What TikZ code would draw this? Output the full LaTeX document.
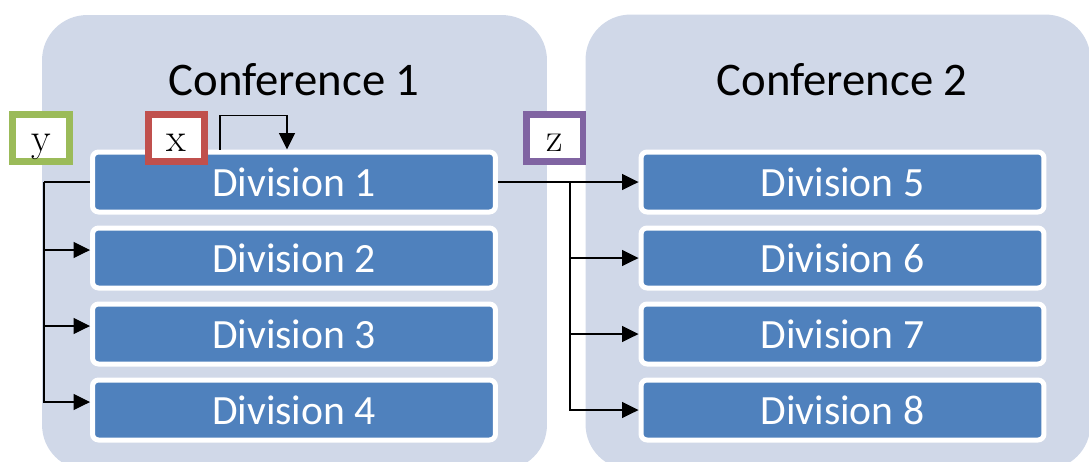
\documentclass[tikz,border=0pt]{standalone}
\usepackage{fontspec}
\newfontfamily\calibri{Carlito}
\usetikzlibrary{arrows.meta}
\definecolor{cConf}{RGB}{208,216,232}
\definecolor{cDiv}{RGB}{79,129,189}
\definecolor{cTagY}{RGB}{155,187,89}
\definecolor{cTagX}{RGB}{192,80,77}
\definecolor{cTagZ}{RGB}{128,100,162}

\begin{document}
\begin{tikzpicture}[
  x=0.02cm, y=-0.02cm,
  conf/.style ={rounded corners=0.9cm, fill=cConf, inner sep=0pt,
                minimum width=10.1cm, minimum height=9.1cm},
  title/.style={font=\calibri\fontsize{26.6}{30}\selectfont, text=black},
  div/.style  ={rounded corners=0.12cm, draw=white, line width=0.1cm, fill=cDiv,
                minimum width=8.06cm, minimum height=1.2cm, inner sep=0pt,
                text=white, font=\calibri\fontsize{23.7}{28}\selectfont},
  tag/.style  ={draw, line width=0.14cm, fill=white, inner sep=0pt,
                minimum width=1.14cm, minimum height=0.94cm,
                text height=0.54cm, text depth=0pt,
                font=\fontsize{23}{26}\selectfont},
  link/.style ={line width=0.7pt, draw=black},
  arr/.style  ={link, -{Triangle[length=0.33cm,width=0.32cm]}},
]
\useasboundingbox (0,0) rectangle (1089,461);

% columns: 294 / 842 ; rows: 182 / 258 / 334 / 410  (px, y downwards)
\node[conf] (conf1) at (294.5,242.5) {};
\node[conf] (conf2) at (838,242)     {};
\node[title] (t1) at (294,80) {Conference 1};
\node[title] (t2) at (842,80) {Conference 2};

\node[div] (d1) at (294,182) {Division 1};
\node[div] (d2) at (294,258) {Division 2};
\node[div] (d3) at (294,334) {Division 3};
\node[div] (d4) at (294,410) {Division 4};
\node[div] (d5) at (842.5,182) {Division 5};
\node[div] (d6) at (842.5,258) {Division 6};
\node[div] (d7) at (842.5,334) {Division 7};
\node[div] (d8) at (842.5,410) {Division 8};

% ----- move inside the same division ------------------------------------
\draw[arr] ([shift={(-74,0)}]d1.north) -- ++(0,-34) -| ([shift={(-7,0)}]d1.north);

% ----- move to another division of the same conference ------------------
\coordinate (lt) at ([shift={(-46,0)}]d1.west);
\draw[link] (d1.west) -- (lt);
\foreach \i in {2,3,4}
  \draw[arr] (lt) |- ([shift={(0,-8)}]d\i.west);

% ----- move to a division of the other conference -----------------------
\coordinate (rt) at ([shift={(72,0)}]d1.east);
\draw[link] (d1.east) -- (rt);
\foreach \i in {5,...,8}
  \draw[arr] (rt) |- (d\i.west);

% ----- tags --------------------------------------------------------------
\node[tag,draw=cTagY] (ty) at (41,138)    {y};
\node[tag,draw=cTagX] (tx) at (176.5,138) {x};
\node[tag,draw=cTagZ] (tz) at (554.5,138) {z};

\end{tikzpicture}
\end{document}
